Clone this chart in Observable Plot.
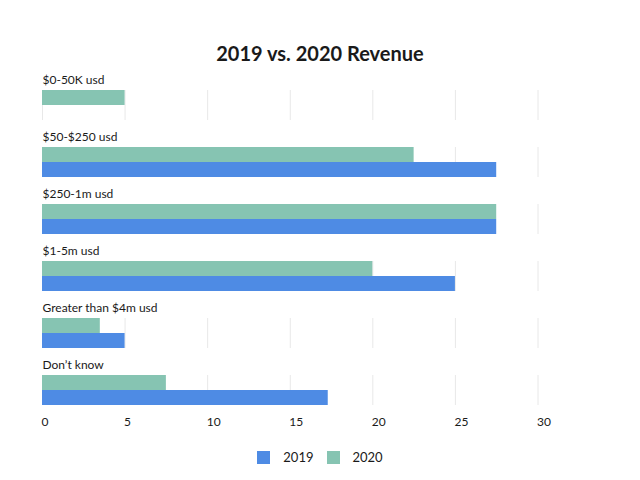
<!DOCTYPE html>
<html>
<head>
<meta charset="utf-8">
<script src="https://cdn.jsdelivr.net/npm/d3@7"></script>
<script src="https://cdn.jsdelivr.net/npm/@observablehq/plot@0.6"></script>
<style>
  html, body { margin: 0; padding: 0; background: #fff; }
  body { width: 640px; height: 480px; overflow: hidden; font-family: Lato, "Noto Sans", sans-serif; color: #1a1a1a; }
  #title { height: 70px; box-sizing: border-box; padding-top: 41px; text-align: center; font-size: 20px; font-weight: 700; line-height: 24px; }
  #chart svg { display: block; }
  #legend { display: flex; justify-content: center; align-items: center; padding-top: 9px; font-size: 13px; }
  #legend .item { display: flex; align-items: center; margin: 0 6.5px; }
  #legend .sw { width: 13px; height: 13px; margin-right: 13px; }
</style>
</head>
<body>
<div id="title">2019 vs. 2020 Revenue</div>
<div id="chart"></div>
<div id="legend"></div>
<script>
const categories = ["$0-50K usd", "$50-$250 usd", "$250-1m usd", "$1-5m usd", "Greater than $4m usd", "Don’t know"];
const values2019 = [0, 27.5, 27.5, 25, 5, 17.3];
const values2020 = [5, 22.5, 27.5, 20, 3.5, 7.5];
const years = ["2019", "2020"];
const colors = ["#4e8be4", "#86c4b2"];
const xTicks = [0, 5, 10, 15, 20, 25, 30];

const data = categories.flatMap((c, i) => [
  {category: c, year: years[0], value: values2019[i]},
  {category: c, year: years[1], value: values2020[i]}
]);

const chart = Plot.plot({
  width: 640,
  height: 370,
  marginTop: 19,
  marginBottom: 33.5,
  marginLeft: 42,
  marginRight: 102.5,
  style: {fontFamily: "Lato, 'Noto Sans', sans-serif", fontSize: "12px", color: "#1a1a1a", background: "#fff"},
  x: {domain: [0, 30]},
  y: {domain: ["2020", "2019"], axis: null, padding: 0},
  fy: {domain: categories, axis: null, paddingInner: 0.478, paddingOuter: 0},
  color: {domain: years, range: colors},
  marks: [
    Plot.gridX(xTicks, {stroke: "#e8e8e8", strokeOpacity: 1}),
    Plot.barX(data, {fy: "category", y: "year", x: "value", fill: "year"}),
    Plot.text(categories, {fy: d => d, text: d => d, frameAnchor: "top-left", dy: -7, lineAnchor: "bottom", fontSize: 12, fill: "#1a1a1a"}),
    Plot.axisX({ticks: xTicks, tickSize: 0, tickPadding: 12, textAnchor: "start", dx: -1, label: null, fontSize: 12, fill: "#1a1a1a"})
  ]
});
document.getElementById("chart").appendChild(chart);

const legend = document.getElementById("legend");
years.forEach((y, i) => {
  const item = document.createElement("div");
  item.className = "item";
  const sw = document.createElement("div");
  sw.className = "sw";
  sw.style.background = colors[i];
  const t = document.createElement("span");
  t.textContent = y;
  item.appendChild(sw);
  item.appendChild(t);
  legend.appendChild(item);
});
</script>
</body>
</html>
